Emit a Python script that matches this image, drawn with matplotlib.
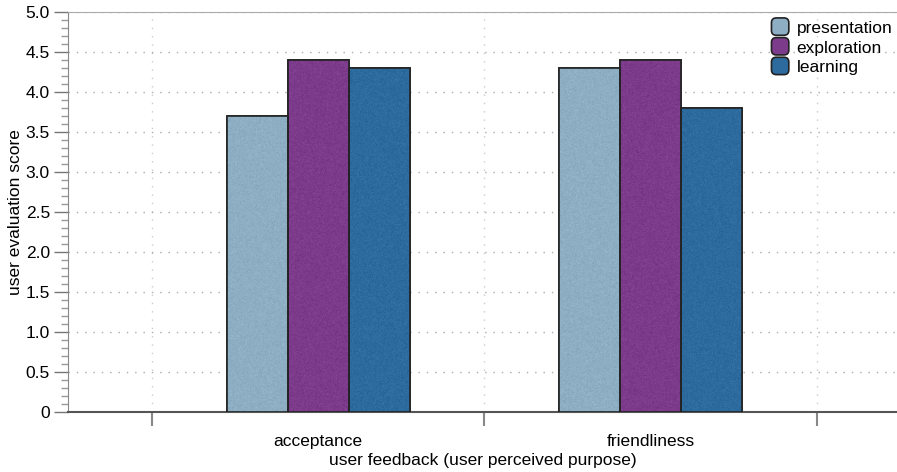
import numpy as np
import matplotlib
matplotlib.use("Agg")
from matplotlib import pyplot as plt
from matplotlib.ticker import MultipleLocator, FixedLocator, FuncFormatter
from matplotlib.patches import FancyBboxPatch
from matplotlib.legend_handler import HandlerPatch

plt.rcParams['font.family'] = ['Liberation Sans', 'DejaVu Sans']

categories = ['acceptance', 'friendliness']
series = ['presentation', 'exploration', 'learning']
values = {
    'presentation': [3.7, 4.3],
    'exploration': [4.4, 4.4],
    'learning': [4.3, 3.8],
}
colors = ['#8eafc3', '#7c3b8b', '#2d6a9d']


class RoundBox(HandlerPatch):
    def create_artists(self, legend, orig, xd, yd, width, height, fontsize, trans):
        p = FancyBboxPatch((xd, yd - 3), width, width,
                           boxstyle='round,pad=0,rounding_size=3.5',
                           facecolor=orig.get_facecolor(), edgecolor='#222222',
                           linewidth=1.2, transform=trans)
        return [p]


fig = plt.figure(figsize=(8.97, 4.72), dpi=100)
ax = fig.add_axes([68 / 897, 60 / 472, 1 - 68 / 897, 400 / 472])

w = 0.183
x = np.arange(len(categories))
rng = np.random.default_rng(3)  # grain texture only
handles = []
for i, (s, c) in enumerate(zip(series, colors)):
    bars = ax.bar(x + (i - 1) * w, values[s], w, color=c, edgecolor='#222222',
                  linewidth=1.2, label=s, zorder=3)
    handles.append(bars[0])
    base = np.array(matplotlib.colors.to_rgb(c))
    for b in bars:
        noise = rng.normal(0, 0.025, (500, 80, 1))
        img = np.clip(base[None, None, :] + noise, 0, 1)
        im = ax.imshow(img, extent=(b.get_x(), b.get_x() + b.get_width(), 0, b.get_height()),
                       aspect='auto', zorder=3.5, interpolation='antialiased')
        im.set_clip_path(b)
        edge = plt.Rectangle((b.get_x(), 0), b.get_width(), b.get_height(), fill=False,
                             edgecolor='#222222', linewidth=1.2, zorder=4)
        ax.add_patch(edge)

ax.set_xlim(-0.7526, 1.7406)
ax.set_ylim(0, 5)

# y ticks
ax.yaxis.set_major_locator(MultipleLocator(0.5))
ax.yaxis.set_minor_locator(MultipleLocator(0.1))
ax.yaxis.set_major_formatter(FuncFormatter(lambda v, p: '0' if v == 0 else '%.1f' % v))
ax.tick_params(axis='y', which='major', length=10, width=1, color='#777777',
               labelsize=12.5, pad=3)
ax.tick_params(axis='y', which='minor', length=5, width=1, color='#999999')

# x ticks at group boundaries, labels at centers
ax.xaxis.set_major_locator(FixedLocator([-0.5, 0.5, 1.5]))
ax.xaxis.set_minor_locator(FixedLocator(x))
ax.xaxis.set_major_formatter(FuncFormatter(lambda v, p: ''))
ax.set_xticklabels(categories, minor=True)
ax.tick_params(axis='x', which='major', length=10, width=1.5, color='#888888')
ax.tick_params(axis='x', which='minor', length=0, labelsize=12.5, pad=16)

ax.grid(True, axis='y', which='major', linestyle=(0, (1, 5)), color='#aaaaaa', linewidth=1, zorder=0)
ax.grid(True, axis='x', which='major', linestyle=(0, (1, 5)), color='#cccccc', linewidth=1, zorder=0)
ax.set_axisbelow(True)

ax.spines['right'].set_visible(False)
ax.spines['top'].set_color('#aaaaaa')
ax.spines['left'].set_color('#888888')
ax.spines['bottom'].set_color('#555555')
ax.spines['bottom'].set_linewidth(1.5)

ax.set_xlabel('user feedback (user perceived purpose)', fontsize=12.5, labelpad=3)
ax.set_ylabel('user evaluation score', fontsize=12.5, labelpad=2)

leg = ax.legend(handles, series, loc='upper right', frameon=False, fontsize=12.5,
                handlelength=1.0, handleheight=1.0, handletextpad=0.45, labelspacing=0.17,
                borderaxespad=0.2, bbox_to_anchor=(1.007, 1.008),
                handler_map={matplotlib.patches.Rectangle: RoundBox()})

fig.savefig('out.png', dpi=100)
